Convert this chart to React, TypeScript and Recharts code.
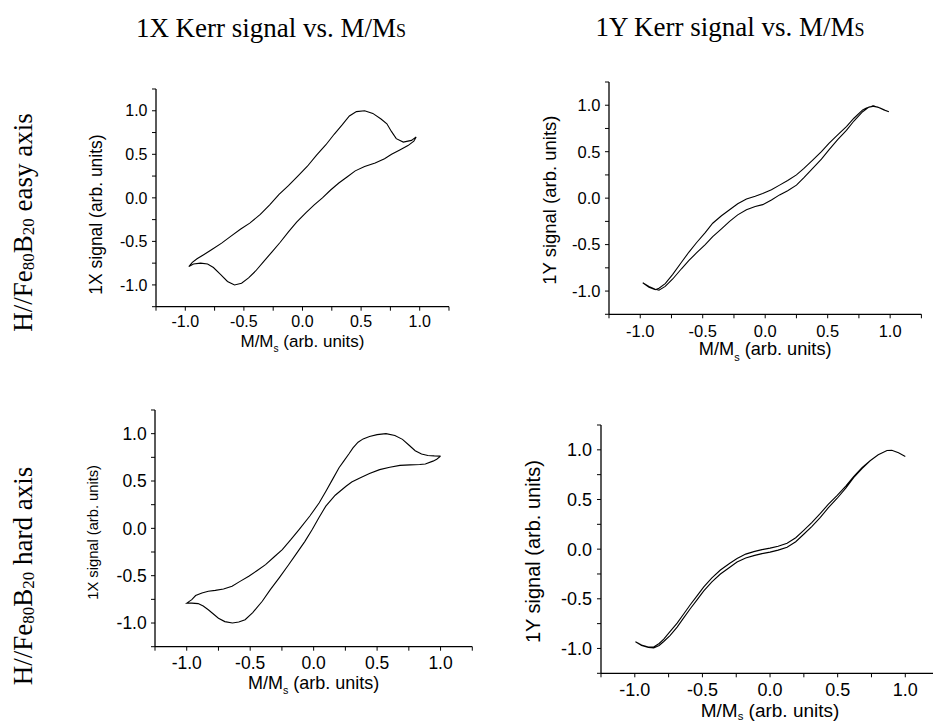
import React from 'react';
import { LineChart, Line, XAxis, YAxis, Label } from 'recharts';

// ---------- axis ticks ----------
const AXIS_TICKS = [-1.25, -1, -0.75, -0.5, -0.25, 0, 0.25, 0.5, 0.75, 1, 1.25];
const MAJOR_TICKS = [-1, -0.5, 0, 0.5, 1];

// ---------- titles ----------
const columnTitles = ['1X Kerr signal vs. M/M', '1Y Kerr signal vs. M/M'];
const rowTitles = ['easy axis', 'hard axis'];

// ---------- easy axis, 1X signal (upper branch right->left, lower branch left->right) ----------
const easy1XUpperM = [0.97, 0.93, 0.86, 0.8, 0.76, 0.72, 0.67, 0.6, 0.53, 0.46, 0.4, 0.34, 0.27, 0.2, 0.12, 0.04, -0.04, -0.12, -0.2, -0.28, -0.36, -0.45, -0.53, -0.61, -0.69, -0.77, -0.84, -0.9, -0.94, -0.97];
const easy1XUpperS = [0.7, 0.66, 0.64, 0.68, 0.76, 0.85, 0.905, 0.97, 1.0, 0.99, 0.94, 0.84, 0.73, 0.61, 0.49, 0.36, 0.25, 0.14, 0.04, -0.08, -0.19, -0.29, -0.36, -0.44, -0.52, -0.59, -0.65, -0.7, -0.74, -0.79];
const easy1XLowerM = [-0.97, -0.93, -0.87, -0.81, -0.76, -0.7, -0.64, -0.58, -0.52, -0.46, -0.4, -0.33, -0.26, -0.19, -0.12, -0.05, 0.03, 0.1, 0.17, 0.24, 0.31, 0.38, 0.45, 0.53, 0.62, 0.7, 0.76, 0.83, 0.9, 0.95, 0.97];
const easy1XLowerS = [-0.79, -0.76, -0.75, -0.76, -0.8, -0.88, -0.96, -1.0, -0.98, -0.92, -0.84, -0.73, -0.62, -0.51, -0.39, -0.28, -0.17, -0.08, 0.0, 0.09, 0.17, 0.24, 0.31, 0.36, 0.4, 0.45, 0.5, 0.55, 0.6, 0.65, 0.7];

// ---------- easy axis, 1Y signal ----------
const easy1YLowerM = [-0.98, -0.93, -0.88, -0.85, -0.8, -0.74, -0.67, -0.61, -0.55, -0.48, -0.42, -0.35, -0.285, -0.22, -0.15, -0.08, -0.02, 0.05, 0.115, 0.18, 0.25, 0.31, 0.38, 0.45, 0.51, 0.58, 0.65, 0.71, 0.78, 0.83, 0.87, 0.92, 0.96, 0.99];
const easy1YLowerS = [-0.91, -0.95, -0.98, -0.99, -0.95, -0.87, -0.76, -0.67, -0.59, -0.5, -0.415, -0.33, -0.25, -0.18, -0.125, -0.09, -0.07, -0.02, 0.035, 0.08, 0.14, 0.22, 0.32, 0.42, 0.52, 0.63, 0.73, 0.83, 0.93, 0.98, 0.99, 0.97, 0.945, 0.93];
const easy1YUpperM = [0.99, 0.95, 0.9, 0.86, 0.81, 0.78, 0.71, 0.65, 0.58, 0.51, 0.45, 0.38, 0.31, 0.25, 0.18, 0.115, 0.05, -0.02, -0.08, -0.15, -0.22, -0.285, -0.35, -0.42, -0.48, -0.55, -0.61, -0.67, -0.74, -0.8, -0.85, -0.88, -0.93, -0.98];
const easy1YUpperS = [0.93, 0.95, 0.98, 0.99, 0.97, 0.95, 0.86, 0.77, 0.68, 0.59, 0.5, 0.41, 0.32, 0.25, 0.19, 0.14, 0.09, 0.05, 0.02, -0.01, -0.06, -0.125, -0.19, -0.27, -0.37, -0.48, -0.58, -0.69, -0.82, -0.92, -0.97, -0.985, -0.96, -0.91];

// ---------- hard axis, 1X signal ----------
const hard1XUpperM = [1.0, 0.95, 0.9, 0.85, 0.8, 0.75, 0.7, 0.64, 0.57, 0.5, 0.44, 0.39, 0.35, 0.31, 0.28, 0.24, 0.2, 0.15, 0.1, 0.044, -0.03, -0.115, -0.18, -0.247, -0.31, -0.379, -0.45, -0.511, -0.58, -0.643, -0.71, -0.775, -0.83, -0.88, -0.93, -0.96, -1.0];
const hard1XUpperS = [0.763, 0.765, 0.77, 0.785, 0.82, 0.88, 0.94, 0.98, 1.0, 0.99, 0.97, 0.945, 0.91, 0.85, 0.79, 0.715, 0.64, 0.52, 0.4, 0.27, 0.13, -0.013, -0.12, -0.224, -0.3, -0.383, -0.45, -0.506, -0.56, -0.612, -0.64, -0.655, -0.665, -0.683, -0.71, -0.753, -0.79];
const hard1XLowerM = [-1.0, -0.96, -0.91, -0.87, -0.83, -0.75, -0.7, -0.64, -0.59, -0.54, -0.48, -0.405, -0.34, -0.27, -0.2, -0.14, -0.07, -0.01, 0.04, 0.096, 0.17, 0.255, 0.3, 0.36, 0.44, 0.52, 0.6, 0.68, 0.76, 0.836, 0.88, 0.94, 0.97, 1.0];
const hard1XLowerS = [-0.79, -0.79, -0.795, -0.82, -0.86, -0.95, -0.985, -1.0, -0.99, -0.965, -0.89, -0.77, -0.645, -0.52, -0.39, -0.275, -0.14, -0.01, 0.11, 0.235, 0.35, 0.445, 0.49, 0.53, 0.58, 0.62, 0.645, 0.665, 0.67, 0.675, 0.68, 0.71, 0.73, 0.763];

// ---------- hard axis, 1Y signal ----------
const hard1YLowerM = [-0.995, -0.95, -0.9, -0.86, -0.82, -0.786, -0.74, -0.687, -0.64, -0.59, -0.54, -0.49, -0.43, -0.367, -0.3, -0.244, -0.18, -0.12, -0.06, 0.0, 0.06, 0.126, 0.19, 0.249, 0.31, 0.372, 0.43, 0.495, 0.56, 0.618, 0.68, 0.74, 0.8, 0.865, 0.9, 0.95, 1.0];
const hard1YLowerS = [-0.933, -0.97, -0.99, -0.995, -0.97, -0.93, -0.87, -0.785, -0.695, -0.6, -0.51, -0.42, -0.33, -0.25, -0.185, -0.13, -0.09, -0.065, -0.045, -0.03, -0.01, 0.02, 0.075, 0.15, 0.23, 0.32, 0.415, 0.51, 0.615, 0.72, 0.81, 0.89, 0.95, 0.993, 0.995, 0.97, 0.933];
const hard1YUpperM = [1.0, 0.95, 0.9, 0.865, 0.8, 0.74, 0.68, 0.618, 0.56, 0.495, 0.43, 0.372, 0.31, 0.249, 0.19, 0.126, 0.06, 0.0, -0.06, -0.12, -0.18, -0.244, -0.3, -0.367, -0.43, -0.49, -0.54, -0.59, -0.64, -0.687, -0.74, -0.786, -0.82, -0.86, -0.9, -0.95, -0.995];
const hard1YUpperS = [0.933, 0.97, 0.995, 0.993, 0.95, 0.89, 0.82, 0.73, 0.635, 0.54, 0.45, 0.36, 0.27, 0.19, 0.115, 0.06, 0.03, 0.01, -0.005, -0.025, -0.05, -0.095, -0.145, -0.21, -0.29, -0.38, -0.47, -0.56, -0.655, -0.745, -0.83, -0.905, -0.95, -0.985, -0.985, -0.965, -0.933];

type Pt = { m: number; s: number };
const zipPts = (ms: number[], ss: number[]): Pt[] => ms.map((m, i) => ({ m, s: ss[i] }));

const easy1XData = [...zipPts(easy1XUpperM, easy1XUpperS), ...zipPts(easy1XLowerM, easy1XLowerS)];
const easy1YData = [...zipPts(easy1YLowerM, easy1YLowerS), ...zipPts(easy1YUpperM, easy1YUpperS)];
const hard1XData = [...zipPts(hard1XUpperM, hard1XUpperS), ...zipPts(hard1XLowerM, hard1XLowerS)];
const hard1YData = [...zipPts(hard1YLowerM, hard1YLowerS), ...zipPts(hard1YUpperM, hard1YUpperS)];

const SANS = '"Liberation Sans", Arial, Helvetica, sans-serif';
const SERIF = '"Liberation Serif", "Times New Roman", serif';

type PanelProps = {
  data: Pt[];
  plot: { left: number; top: number; right: number; bottom: number };
  tickFont: number;
  xTickMargin: number;
  yTickMargin: number;
  yLabel: string;
  yFont: number;
  yDist: number;
  yShift: number;
  xFont: number;
  xDist: number;
  subDrop: number;
};

const YW = 110;
const MT = 14;
const MR = 20;
const XH = 70;

const fmtTick = (v: number) => (MAJOR_TICKS.some((t) => Math.abs(t - v) < 1e-9) ? v.toFixed(1) : '');

function Panel(p: PanelProps) {
  const pw = p.plot.right - p.plot.left;
  const ph = p.plot.bottom - p.plot.top;
  const W = pw + YW + MR;
  const H = ph + MT + XH;
  return (
    <div style={{ position: 'absolute', left: p.plot.left - YW, top: p.plot.top - MT, width: W, height: H }}>
      <LineChart width={W} height={H} data={p.data} margin={{ top: MT, right: MR, bottom: 0, left: 0 }}>
        <XAxis
          type="number"
          dataKey="m"
          domain={[-1.25, 1.25]}
          ticks={AXIS_TICKS}
          interval={0}
          allowDataOverflow
          tickFormatter={fmtTick}
          height={XH}
          tickSize={4}
          tickMargin={p.xTickMargin}
          axisLine={{ stroke: '#000', strokeWidth: 1.3 }}
          tickLine={{ stroke: '#000', strokeWidth: 1 }}
          tick={{ fill: '#000', fontSize: p.tickFont, fontFamily: SANS }}
        >
          <Label
            content={(lp: any) => {
              const vb = lp.viewBox || {};
              const cx = vb.x + vb.width / 2;
              const by = vb.y + p.xDist;
              return (
                <text x={cx} y={by} textAnchor="middle" fontFamily={SANS} fontSize={p.xFont} fill="#000">
                  M/M
                  <tspan fontSize={p.xFont * 0.6} dy={p.subDrop}>s</tspan>
                  <tspan dy={-p.subDrop}> (arb. units)</tspan>
                </text>
              );
            }}
          />
        </XAxis>
        <YAxis
          type="number"
          dataKey="s"
          domain={[-1.25, 1.25]}
          ticks={AXIS_TICKS}
          interval={0}
          allowDataOverflow
          tickFormatter={fmtTick}
          width={YW}
          tickSize={4}
          tickMargin={p.yTickMargin}
          axisLine={{ stroke: '#000', strokeWidth: 1.3 }}
          tickLine={{ stroke: '#000', strokeWidth: 1 }}
          tick={{ fill: '#000', fontSize: p.tickFont, fontFamily: SANS }}
        >
          <Label
            content={(lp: any) => {
              const vb = lp.viewBox || {};
              const bx = vb.x + vb.width - p.yDist;
              const cy = vb.y + vb.height / 2 + p.yShift;
              return (
                <text
                  x={bx}
                  y={cy}
                  textAnchor="middle"
                  fontFamily={SANS}
                  fontSize={p.yFont}
                  fill="#000"
                  transform={`rotate(-90, ${bx}, ${cy})`}
                >
                  {p.yLabel}
                </text>
              );
            }}
          />
        </YAxis>
        <Line
          type="linear"
          dataKey="s"
          stroke="#000"
          strokeWidth={1.1}
          dot={false}
          activeDot={false}
          isAnimationActive={false}
        />
      </LineChart>
    </div>
  );
}

function RowLabel({ x, y, text }: { x: number; y: number; text: string }) {
  return (
    <text x={x} y={y} textAnchor="middle" fontFamily={SERIF} fontSize={27} fill="#000" transform={`rotate(-90, ${x}, ${y})`}>
      H//Fe
      <tspan fontSize={17} dy={2}>80</tspan>
      <tspan dy={-2}>B</tspan>
      <tspan fontSize={17} dy={2}>20</tspan>
      <tspan dy={-2}> {text}</tspan>
    </text>
  );
}

function ColTitle({ x, y, text }: { x: number; y: number; text: string }) {
  return (
    <text x={x} y={y} textAnchor="middle" fontFamily={SERIF} fontSize={27} fill="#000">
      {text}
      <tspan fontSize={18}>S</tspan>
    </text>
  );
}

export default function App() {
  return (
    <div style={{ position: 'relative', width: 933, height: 722, overflow: 'hidden', background: '#fff' }}>
      <style>{'body{margin:0;overflow:hidden;background:#fff}'}</style>
      <svg width={933} height={722} style={{ position: 'absolute', left: 0, top: 0 }}>
        <ColTitle x={271} y={36.5} text={columnTitles[0]} />
        <ColTitle x={730} y={36} text={columnTitles[1]} />
        <RowLabel x={32} y={222.5} text={rowTitles[0]} />
        <RowLabel x={32} y={576} text={rowTitles[1]} />
      </svg>
      <Panel
        data={easy1XData}
        plot={{ left: 156, top: 89, right: 449, bottom: 306.7 }}
        tickFont={16}
        xTickMargin={5.3}
        yTickMargin={4.5}
        yLabel="1X signal (arb. units)"
        yFont={17.5}
        yDist={53.5}
        yShift={16.7}
        xFont={17}
        xDist={40.3}
        subDrop={5}
      />
      <Panel
        data={easy1YData}
        plot={{ left: 609.3, top: 81.7, right: 921.7, bottom: 314 }}
        tickFont={16.5}
        xTickMargin={7}
        yTickMargin={4.6}
        yLabel="1Y signal (arb. units)"
        yFont={18.5}
        yDist={53}
        yShift={2}
        xFont={18.2}
        xDist={41}
        subDrop={5.5}
      />
      <Panel
        data={hard1XData}
        plot={{ left: 155, top: 410, right: 472.3, bottom: 646.7 }}
        tickFont={17.5}
        xTickMargin={6}
        yTickMargin={4.3}
        yLabel="1X signal (arb. units)"
        yFont={14.7}
        yDist={57}
        yShift={4}
        xFont={18}
        xDist={42.3}
        subDrop={5.4}
      />
      <Panel
        data={hard1YData}
        plot={{ left: 600.7, top: 425, right: 938.8, bottom: 673.3 }}
        tickFont={18}
        xTickMargin={5.5}
        yTickMargin={5}
        yLabel="1Y signal (arb. units)"
        yFont={20}
        yDist={61}
        yShift={2.5}
        xFont={19}
        xDist={43.5}
        subDrop={3}
      />
    </div>
  );
}
